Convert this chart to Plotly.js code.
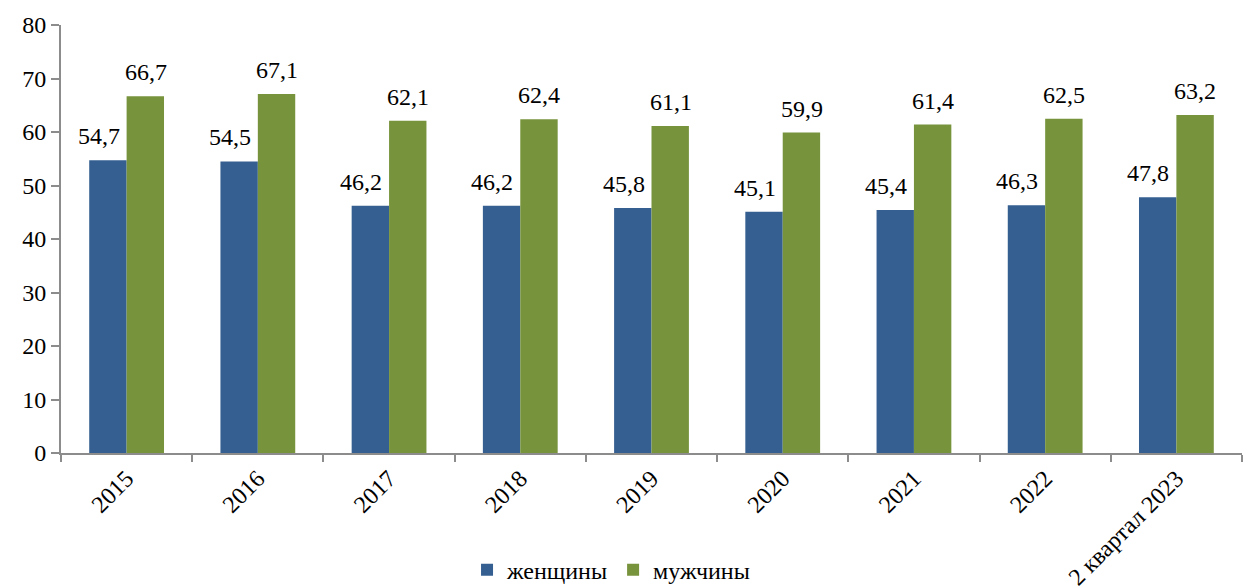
<!DOCTYPE html>
<html><head><meta charset="utf-8">
<script src="https://cdn.plot.ly/plotly-3.0.1.min.js"></script>
<style>html,body{margin:0;padding:0;background:#fff}#c{width:1247px;height:586px}</style>
</head><body><div id="c"></div>
<script>
const categories = ["2015","2016","2017","2018","2019","2020","2021","2022","2 квартал 2023"];
const women = [54.7,54.5,46.2,46.2,45.8,45.1,45.4,46.3,47.8];
const men = [66.7,67.1,62.1,62.4,61.1,59.9,61.4,62.5,63.2];
const seriesNames = ["женщины","мужчины"];
const colors = ["#365F91","#77933C"];
const fmt = v => v.toFixed(1).replace('.', ',');
const ff = "'Times New Roman', 'Liberation Serif', 'DejaVu Serif', serif";

const traces = [women, men].map((vals, i) => ({
  type: 'bar', x: categories, y: vals, name: seriesNames[i],
  marker: {color: colors[i]}
}));

const annotations = [];
[women, men].forEach((vals, i) => {
  vals.forEach((v, j) => {
    annotations.push({
      x: j, y: v, xref: 'x', yref: 'y', text: fmt(v),
      showarrow: false, yanchor: 'bottom', xanchor: 'center',
      xshift: i === 0 ? -28 : 19, yshift: 9,
      font: {family: ff, size: 24, color: '#000'}
    });
  });
});

const layout = {
  width: 1247, height: 586,
  margin: {l: 61, r: 5, t: 25, b: 133},
  paper_bgcolor: '#fff', plot_bgcolor: '#fff',
  barmode: 'group', bargap: 0.43,
  font: {family: ff, size: 24, color: '#000'},
  xaxis: {
    type: 'category', tickangle: -45, showline: true, linecolor: '#8c8c8c', linewidth: 2,
    ticks: 'outside', tickson: 'boundaries', ticklen: 7, tickcolor: '#8c8c8c', tickwidth: 2,
    showgrid: false, automargin: false, tickfont: {family: ff, size: 24}
  },
  yaxis: {
    range: [0, 80], dtick: 10, showline: true, linecolor: '#8c8c8c', linewidth: 2,
    ticks: 'outside', ticklen: 8, tickcolor: '#8c8c8c', tickwidth: 2,
    showgrid: false, zeroline: false, automargin: false, tickfont: {family: ff, size: 24}
  },
  legend: {orientation: 'h', x: 0.49, xanchor: 'center', xref: 'container', yref: 'container',
           y: 0.027, yanchor: 'middle', font: {family: ff, size: 24}},
  annotations: annotations
};
Plotly.newPlot('c', traces, layout, {displayModeBar: false});
</script></body></html>
